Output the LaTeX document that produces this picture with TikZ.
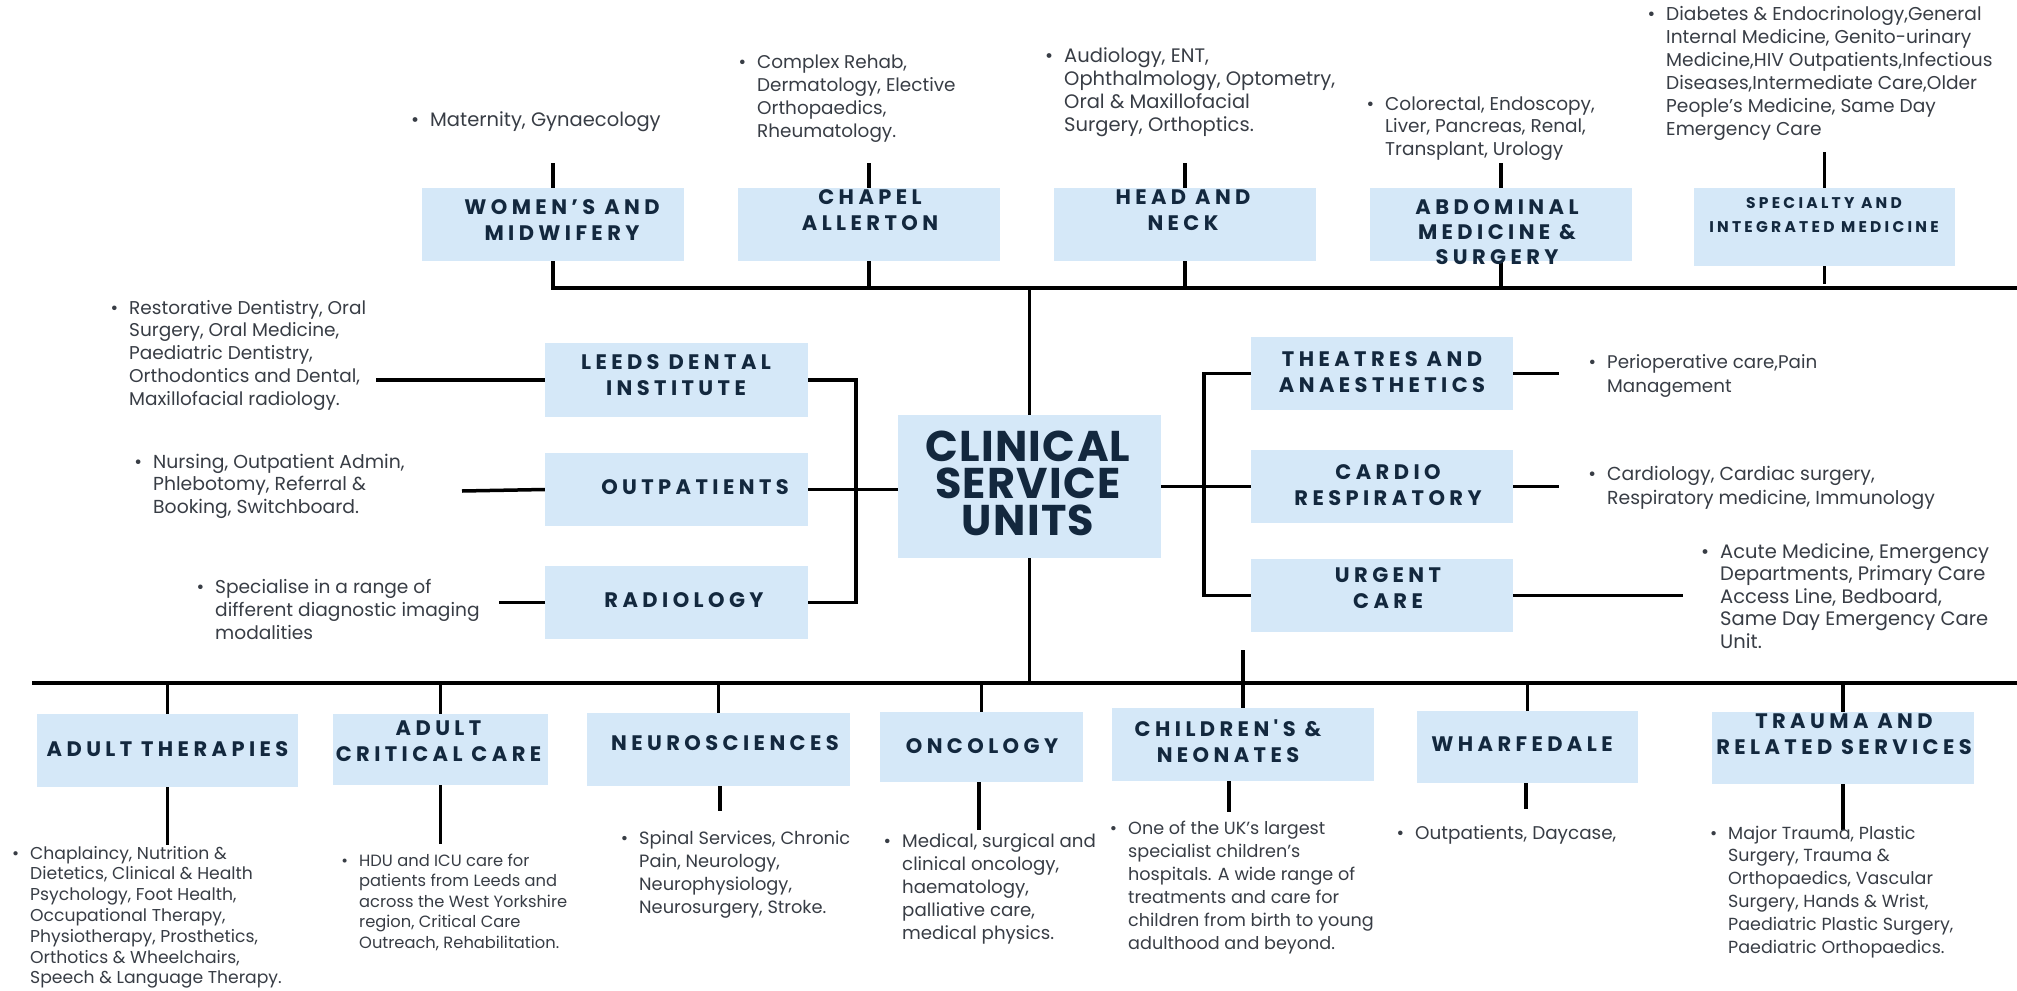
\documentclass[tikz,border=0pt]{standalone}
\usepackage{fontspec}
\setmainfont{Poppins}
\newfontfamily\titlef{Poppins}[LetterSpace=21]
\newfontfamily\bigf{Poppins}[LetterSpace=3]
\definecolor{boxc}{HTML}{D5E8F8}
\definecolor{navy}{HTML}{13283E}
\definecolor{bodyc}{HTML}{383D45}
\newcommand\blist[3]{\fontsize{#1}{#2}\selectfont\begin{tabular}[t]{@{}l@{}}\llap{\textbullet\hspace{11pt}}#3\end{tabular}}
\tikzset{
  line/.style={line width=3.5pt, line join=miter},
  box/.style={fill=boxc, draw=none, inner sep=0pt},
  title/.style={align=center, inner sep=0pt, text=navy, font=\titlef\bfseries\fontsize{21}{26}\selectfont},
  stitle/.style={align=center, inner sep=0pt, text=navy, font=\titlef\bfseries\fontsize{15.5}{24}\selectfont},
  body/.style={anchor=base west, inner sep=0pt, text=bodyc},
}
\begin{document}
\begin{tikzpicture}[x=1pt,y=-1pt]
\path[use as bounding box, fill=white] (0,0) rectangle (2017,990);

% ---------- boxes ----------
\node[box, minimum width=262, minimum height=73] (wm) at (553,224.5) {};
\node[box, minimum width=262, minimum height=73] (ca) at (869,224.5) {};
\node[box, minimum width=262, minimum height=73] (hn) at (1185,224.5) {};
\node[box, minimum width=262, minimum height=73] (ab) at (1501,224.5) {};
\node[box, minimum width=261, minimum height=78] (si) at (1824.5,227) {};
\node[box, minimum width=263, minimum height=74] (ld) at (676.5,380) {};
\node[box, minimum width=263, minimum height=73] (op) at (676.5,489.5) {};
\node[box, minimum width=263, minimum height=73] (rd) at (676.5,602.5) {};
\node[box, minimum width=263, minimum height=143] (cs) at (1029.5,486.5) {};
\node[box, minimum width=262, minimum height=73] (th) at (1382,373.5) {};
\node[box, minimum width=262, minimum height=73] (cr) at (1382,486.5) {};
\node[box, minimum width=262, minimum height=73] (uc) at (1382,595.5) {};
\node[box, minimum width=261, minimum height=73] (at) at (167.5,750.5) {};
\node[box, minimum width=215, minimum height=71] (ac) at (440.5,749.5) {};
\node[box, minimum width=263, minimum height=73] (ns) at (718.5,749.5) {};
\node[box, minimum width=203, minimum height=70] (on) at (981.5,747) {};
\node[box, minimum width=262, minimum height=73] (cn) at (1243,744.5) {};
\node[box, minimum width=221, minimum height=72] (wf) at (1527.5,747) {};
\node[box, minimum width=262, minimum height=72] (tr) at (1843,748) {};

% ---------- coordinates ----------
\coordinate (busTR) at (2017,288);
\coordinate (busBL) at (32,683);
\coordinate (busBR) at (2017,683);
\coordinate (wmS) at (553,163);
\coordinate (caS) at (869,163);
\coordinate (hnS) at (1185,163);
\coordinate (abS) at (1501,163);
\coordinate (siS) at (1824.5,152);
\coordinate (ldL) at (376,380);
\coordinate (opL) at (462,491);
\coordinate (rdL) at (499,602.5);
\coordinate (thR) at (1559,373.5);
\coordinate (crR) at (1559,486.5);
\coordinate (ucR) at (1683,595.5);
\coordinate (cnS) at (1243,650);
\coordinate (atB) at (167.5,845);
\coordinate (acB) at (440.5,844);
\coordinate (nsB) at (720,811);
\coordinate (onB) at (979,830);
\coordinate (cnB) at (1229,812);
\coordinate (wfB) at (1526,809);
\coordinate (trB) at (1843,830);

% ---------- connectors ----------
\draw[line] (wm.south) |- (busTR);
\draw[line] (ca.south) -- (ca.south |- busTR);
\draw[line] (hn.south) -- (hn.south |- busTR);
\draw[line] (ab.south) -- (ab.south |- busTR);
\draw[line] (si.south) -- ([yshift=4pt]si.south |- busTR);
\draw[line] (wmS) -- (wm.north);
\draw[line] (caS) -- (ca.north);
\draw[line] (hnS) -- (hn.north);
\draw[line] (abS) -- (ab.north);
\draw[line] (siS) -- (si.north);
\draw[line] (cs.north) -- (cs.north |- busTR);
\draw[line] (cs.south) -- (cs.south |- busBL);
\draw[line] (ldL) -- (ld.west);
\draw[line] (opL) -- (op.west);
\draw[line] (rdL) -- (rd.west);
\draw[line] (ld.east) -- ++(48,0) |- (rd.east);
\draw[line] (op.east) -- (op.east -| cs.west);
\draw[line] (cs.east) -- (cr.west);
\draw[line] (th.west) -- ++(-47,0) |- (uc.west);
\draw[line] (th.east) -- (thR);
\draw[line] (cr.east) -- (crR);
\draw[line] (uc.east) -- (ucR);
\draw[line] (busBL) -- (busBR);
\draw[line] (at.north) -- (at.north |- busBL);
\draw[line] (ac.north) -- (ac.north |- busBL);
\draw[line] (ns.north) -- (ns.north |- busBL);
\draw[line] (on.north) -- (on.north |- busBL);
\draw[line] (cnS) -- (cn.north);
\draw[line] (wf.north) -- (wf.north |- busBL);
\draw[line] (tr.north) -- (tr.north |- busBL);
\draw[line] (at.south) -- (atB);
\draw[line] (ac.south) -- (acB);
\draw[line] (ns.south -| nsB) -- (nsB);
\draw[line] (on.south -| onB) -- (onB);
\draw[line] (cn.south -| cnB) -- (cnB);
\draw[line] (wf.south -| wfB) -- (wfB);
\draw[line] (tr.south) -- (trB);

% ---------- titles ----------
\node[title] (wmT) at (562,220) {WOMEN’S AND\\MIDWIFERY};
\node[title] (caT) at (870,210) {CHAPEL\\ALLERTON};
\node[title] (hnT) at (1183,210) {HEAD AND\\NECK};
\node[title, font=\titlef\bfseries\fontsize{21}{25}\selectfont] (abT) at (1497,232) {ABDOMINAL\\MEDICINE \&\\SURGERY};
\node[stitle] (siT) at (1824,215) {SPECIALTY AND\\INTEGRATED MEDICINE};
\node[title] (ldT) at (676,375) {LEEDS DENTAL\\INSTITUTE};
\node[title] (opT) at (695,487) {OUTPATIENTS};
\node[title] (rdT) at (684,600) {RADIOLOGY};
\node[align=center, inner sep=0pt, text=navy, font=\bigf\bfseries\fontsize{43}{37}\selectfont] (csT) at (1028,483) {CLINICAL\\SERVICE\\UNITS};
\node[title] (thT) at (1382,372.5) {THEATRES AND\\ANAESTHETICS};
\node[title] (crT) at (1388,485) {CARDIO\\RESPIRATORY};
\node[title] (ucT) at (1388,588.5) {URGENT\\CARE};
\node[title] (atT) at (167.5,749) {ADULT THERAPIES};
\node[title] (acT) at (438.5,741.5) {ADULT\\CRITICAL CARE};
\node[title] (nsT) at (725,743) {NEUROSCIENCES};
\node[title] (onT) at (982,746) {ONCOLOGY};
\node[title] (cnT) at (1228,741) {CHILDREN'S \&\\NEONATES};
\node[title] (wfT) at (1522,744) {WHARFEDALE};
\node[title] (trT) at (1844,734.5) {TRAUMA AND\\RELATED SERVICES};

% ---------- descriptions ----------
\node[body] (wmD) at (430,126) {\blist{19.5}{23}{Maternity, Gynaecology}};
\node[body] (caD) at (757,69) {\blist{18.4}{23}{Complex Rehab,\\Dermatology, Elective\\Orthopaedics,\\Rheumatology.}};
\node[body] (hnD) at (1064,63) {\blist{19.5}{23}{Audiology, ENT,\\Ophthalmology, Optometry,\\Oral \& Maxillofacial\\Surgery, Orthoptics.}};
\node[body] (abD) at (1385,110) {\blist{18.5}{22.5}{Colorectal, Endoscopy,\\Liver, Pancreas, Renal,\\Transplant, Urology}};
\node[body] (siD) at (1666,21) {\blist{18.6}{23}{Diabetes \& Endocrinology,General\\Internal Medicine, Genito-urinary\\Medicine,HIV Outpatients,Infectious\\Diseases,Intermediate Care,Older\\People’s Medicine, Same Day\\Emergency Care}};
\node[body] (ldD) at (129,314) {\blist{18.5}{22.75}{Restorative Dentistry, Oral\\Surgery, Oral Medicine,\\Paediatric Dentistry,\\Orthodontics and Dental,\\Maxillofacial radiology.}};
\node[body] (opD) at (153,468) {\blist{18.8}{22.5}{Nursing, Outpatient Admin,\\Phlebotomy, Referral \&\\Booking, Switchboard.}};
\node[body] (rdD) at (215,593) {\blist{18.6}{23}{Specialise in a range of\\different diagnostic imaging\\modalities}};
\node[body] (thD) at (1607,368) {\blist{18.3}{24}{Perioperative care,Pain\\Management}};
\node[body] (crD) at (1607,480) {\blist{18.8}{24}{Cardiology, Cardiac surgery,\\Respiratory medicine, Immunology}};
\node[body] (ucD) at (1720,558) {\blist{19.5}{22.5}{Acute Medicine, Emergency\\Departments, Primary Care\\Access Line, Bedboard,\\Same Day Emergency Care\\Unit.}};
\node[body] (atD) at (30,859) {\blist{17.2}{20.8}{Chaplaincy, Nutrition \&\\Dietetics, Clinical \& Health\\Psychology, Foot Health,\\Occupational Therapy,\\Physiotherapy, Prosthetics,\\Orthotics \& Wheelchairs,\\Speech \& Language Therapy.}};
\node[body] (acD) at (359,866) {\blist{16.3}{20.5}{HDU and ICU care for\\patients from Leeds and\\across the West Yorkshire\\region, Critical Care\\Outreach, Rehabilitation.}};
\node[body] (nsD) at (639,844) {\blist{17.8}{23}{Spinal Services, Chronic\\Pain, Neurology,\\Neurophysiology,\\Neurosurgery, Stroke.}};
\node[body] (onD) at (902,847) {\blist{18.2}{23}{Medical, surgical and\\clinical oncology,\\haematology,\\palliative care,\\medical physics.}};
\node[body] (cnD) at (1128,834) {\blist{17.6}{23}{One of the UK’s largest\\specialist children’s\\hospitals. A wide range of\\treatments and care for\\children from birth to young\\adulthood and beyond.}};
\node[body] (wfD) at (1415,839) {\blist{18.4}{23}{Outpatients, Daycase,}};
\node[body] (trD) at (1728,839) {\blist{17.5}{22.8}{Major Trauma, Plastic\\Surgery, Trauma \&\\Orthopaedics, Vascular\\Surgery, Hands \& Wrist,\\Paediatric Plastic Surgery,\\Paediatric Orthopaedics.}};
\end{tikzpicture}
\end{document}
